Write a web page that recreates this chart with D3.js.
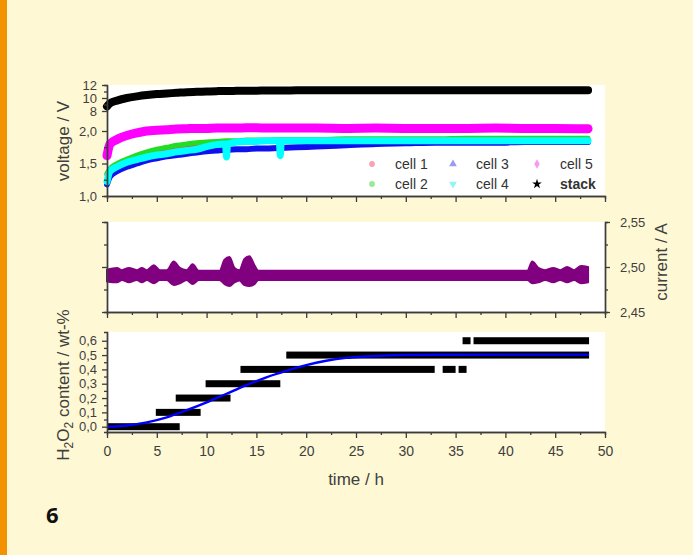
<!DOCTYPE html>
<html>
<head>
<meta charset="utf-8">
<script src="https://cdn.jsdelivr.net/npm/d3@7"></script>
<style>
  body { margin: 0; background: #fef8d4; }
  svg { display: block; font-family: "Liberation Sans", Arial, sans-serif; }
</style>
</head>
<body>
<svg id="chart" width="693" height="555"></svg>
<script>
// ---- voltage panel (V) ----
var voltTime = [0, 0.3, 1, 2, 3, 4, 5, 6, 7, 8, 9, 10, 11, 11.9, 12, 12.1, 13, 14, 15, 16, 17.3, 17.4, 17.5, 19, 21, 24, 27, 30, 33, 36, 39, 42, 45, 48.3];
var cell1 = [1.33, 1.40, 1.48, 1.55, 1.61, 1.66, 1.70, 1.73, 1.75, 1.77, 1.79, 1.80, 1.81, 1.82, 1.82, 1.82, 1.83, 1.84, 1.84, 1.85, 1.85, 1.85, 1.85, 1.86, 1.86, 1.86, 1.86, 1.87, 1.87, 1.87, 1.87, 1.87, 1.87, 1.87];
var cell2 = [1.35, 1.42, 1.50, 1.57, 1.63, 1.68, 1.72, 1.75, 1.78, 1.80, 1.82, 1.83, 1.84, 1.85, 1.85, 1.85, 1.85, 1.86, 1.86, 1.86, 1.87, 1.87, 1.87, 1.87, 1.87, 1.88, 1.88, 1.88, 1.88, 1.89, 1.89, 1.89, 1.89, 1.89];
var cell3 = [1.18, 1.30, 1.38, 1.45, 1.50, 1.55, 1.58, 1.61, 1.63, 1.65, 1.67, 1.69, 1.70, 1.71, 1.71, 1.71, 1.72, 1.72, 1.73, 1.73, 1.74, 1.74, 1.74, 1.75, 1.76, 1.78, 1.80, 1.81, 1.82, 1.82, 1.82, 1.83, 1.83, 1.83];
var cell4 = [1.22, 1.38, 1.45, 1.52, 1.56, 1.60, 1.63, 1.65, 1.68, 1.70, 1.72, 1.76, 1.79, 1.80, 1.60, 1.80, 1.83, 1.84, 1.84, 1.85, 1.85, 1.62, 1.85, 1.85, 1.85, 1.85, 1.85, 1.85, 1.85, 1.85, 1.85, 1.85, 1.85, 1.85];
var cell5 = [1.62, 1.80, 1.87, 1.93, 1.97, 2.00, 2.01, 2.02, 2.03, 2.035, 2.04, 2.04, 2.045, 2.045, 2.045, 2.045, 2.045, 2.05, 2.05, 2.045, 2.045, 2.045, 2.045, 2.045, 2.045, 2.04, 2.045, 2.04, 2.04, 2.04, 2.045, 2.04, 2.04, 2.035];
var stack = [8.7, 9.2, 9.6, 10.0, 10.25, 10.45, 10.6, 10.7, 10.8, 10.9, 10.95, 11.0, 11.05, 11.08, 11.08, 11.08, 11.1, 11.12, 11.13, 11.15, 11.16, 11.16, 11.16, 11.18, 11.2, 11.2, 11.2, 11.2, 11.2, 11.2, 11.2, 11.2, 11.2, 11.2];
var seriesNames = ["cell 1", "cell 2", "cell 3", "cell 4", "cell 5", "stack"];

// ---- current panel (A): upper and lower edge of the noisy band ----
var currTime = [0, 1, 1.5, 2.2, 3, 3.5, 4, 4.7, 5.3, 6, 6.7, 7.3, 8, 8.6, 9.2, 11.3, 11.8, 12.3, 12.8, 13.3, 13.8, 14.3, 14.8, 15.2, 42.2, 42.7, 43.3, 44, 44.8, 45.5, 46.2, 46.9, 47.6, 48.3];
var currHi = [2.497, 2.499, 2.4965, 2.499, 2.4965, 2.499, 2.4965, 2.502, 2.4965, 2.4965, 2.506, 2.499, 2.4965, 2.503, 2.4958, 2.4958, 2.508, 2.511, 2.499, 2.4965, 2.509, 2.512, 2.502, 2.4958, 2.4958, 2.506, 2.499, 2.4965, 2.499, 2.4965, 2.500, 2.4965, 2.501, 2.500];
var currLo = [2.484, 2.483, 2.4855, 2.483, 2.4855, 2.483, 2.4855, 2.482, 2.4855, 2.4855, 2.480, 2.482, 2.4855, 2.481, 2.4856, 2.4856, 2.481, 2.479, 2.483, 2.485, 2.480, 2.479, 2.481, 2.4856, 2.4856, 2.482, 2.483, 2.4855, 2.483, 2.4855, 2.483, 2.4855, 2.482, 2.483];

// ---- H2O2 panel (wt-%) ----
var barValue = [0.0, 0.1, 0.2, 0.3, 0.4, 0.4, 0.4, 0.5, 0.6, 0.6];
var barStart = [0.0, 4.9, 6.9, 9.9, 13.4, 33.7, 35.3, 18.0, 35.7, 36.8];
var barEnd = [7.3, 9.4, 12.4, 17.4, 32.9, 35.0, 36.1, 48.4, 36.5, 48.4];
var fitTime = [0, 2, 4, 6, 8, 10, 12, 14, 16, 18, 20, 22, 24, 26, 28, 30, 34, 40, 48.4];
var fitValue = [0, 0.008, 0.03, 0.065, 0.115, 0.17, 0.23, 0.29, 0.345, 0.39, 0.43, 0.46, 0.48, 0.49, 0.497, 0.5, 0.502, 0.503, 0.503];

var xTicks = [0, 5, 10, 15, 20, 25, 30, 35, 40, 45, 50];

var svg = d3.select("#chart");
var locale = d3.formatLocale({ decimal: ",", thousands: ".", grouping: [3], currency: ["", ""] });
var f1 = locale.format(".1f");
var f2 = locale.format(".2f");

// orange strip on the left
svg.append("rect").attr("x", 0).attr("y", 0).attr("width", 7).attr("height", 555).attr("fill", "#f39200");

var left = 107, right = 605;
var x = d3.scaleLinear().domain([0, 50]).range([left, right]);
// broken voltage axis: 1..2.25 below, 7..12 above
var yV = d3.scaleLinear().domain([1, 2.25, 7, 12]).range([196, 114.75, 117.5, 85]);
var yI = d3.scaleLinear().domain([2.45, 2.55]).range([312, 222]);
var yH = d3.scaleLinear().domain([-0.037, 0.661]).range([432, 332]);

function panelBg(top, bottom) {
  svg.append("rect").attr("x", left).attr("y", top).attr("width", right - left).attr("height", bottom - top).attr("fill", "#fff");
}
panelBg(85, 196);
panelBg(222, 312);
panelBg(332, 432);

function styleAxis(g, size) {
  g.selectAll("path").attr("stroke", "#3c3c3c").attr("stroke-width", 1.4);
  g.selectAll("line").attr("stroke", "#3c3c3c").attr("stroke-width", 1.3);
  g.selectAll("text").attr("fill", "#3f3f3f").attr("font-size", size || 14);
}

function xAxis(yPos, labels) {
  var minor = svg.append("g").attr("transform", "translate(0," + yPos + ")")
    .call(d3.axisBottom(x).tickValues(d3.range(2.5, 50, 5)).tickSize(3).tickFormat(""));
  styleAxis(minor);
  var major = svg.append("g").attr("transform", "translate(0," + yPos + ")")
    .call(d3.axisBottom(x).tickValues(xTicks).tickSizeInner(6).tickSizeOuter(0).tickPadding(8)
      .tickFormat(labels ? d3.format("d") : ""));
  styleAxis(major);
}

function yAxis(scale, xPos, values, minorValues, fmt, onRight) {
  var make = onRight ? d3.axisRight : d3.axisLeft;
  var minor = svg.append("g").attr("transform", "translate(" + xPos + ",0)")
    .call(make(scale).tickValues(minorValues).tickSize(3).tickFormat(""));
  styleAxis(minor);
  var major = svg.append("g").attr("transform", "translate(" + xPos + ",0)")
    .call(make(scale).tickValues(values).tickSizeInner(5).tickSizeOuter(0).tickPadding(onRight ? 10 : 5)
      .tickFormat(fmt));
  styleAxis(major, 13);
  return major;
}

// ---- top panel: voltages ----
var colors = ["#ff3b3b", "#22dd22", "#1010ee", "#00ffff", "#ff00ff", "#000000"];
var widths = [5, 5, 6, 7, 9, 8];
var voltSeries = [cell1, cell2, cell3, cell4, cell5, stack];

var line = d3.line().curve(d3.curveMonotoneX);
voltSeries.forEach(function(vals, i) {
  var pts = voltTime.map(function(t, j) { return [x(t), yV(vals[j])]; });
  svg.append("path").attr("d", line(pts)).attr("fill", "none")
    .attr("stroke", colors[i]).attr("stroke-width", widths[i])
    .attr("stroke-linejoin", "round").attr("stroke-linecap", "round");
});

yAxis(yV, left, [1, 1.5, 2, 8, 10, 12], [1.25, 1.75, 9, 11],
  function(d) { return d < 5 ? f1(d) : d; }, false);
xAxis(196, false);

// legend
var legendColors = ["#f7a3b3", "#9be89b", "#9a9af5", "#8ff5f5", "#f59af5", "#000"];
var legendSymbols = [d3.symbolCircle, d3.symbolCircle, d3.symbolTriangle, d3.symbolTriangle, d3.symbolDiamond, d3.symbolStar];
var legX = [372, 372, 453, 453, 537, 537];
var legY = [164, 184, 164, 184, 164, 184];
seriesNames.forEach(function(name, i) {
  svg.append("path")
    .attr("d", d3.symbol().type(legendSymbols[i]).size(i == 5 ? 30 : 26)())
    .attr("transform", "translate(" + legX[i] + "," + legY[i] + ")" + (i == 3 ? " rotate(180)" : ""))
    .attr("fill", legendColors[i]);
  svg.append("text").attr("x", legX[i] + 23).attr("y", legY[i] + 5)
    .attr("font-size", 14).attr("fill", "#333")
    .attr("font-weight", i == 5 ? "bold" : "normal")
    .text(name);
});

svg.append("text").attr("transform", "translate(69,141) rotate(-90)")
  .attr("text-anchor", "middle").attr("font-size", 17).attr("fill", "#3f3f3f")
  .text("voltage / V");

// ---- middle panel: current ----
var area = d3.area().curve(d3.curveMonotoneX)
  .x(function(d, i) { return x(currTime[i]); })
  .y0(function(d, i) { return yI(currLo[i]); })
  .y1(function(d, i) { return yI(currHi[i]); });
svg.append("path").attr("d", area(currTime)).attr("fill", "#800080")
  .attr("stroke", "#800080").attr("stroke-width", 2).attr("stroke-linejoin", "round");

yAxis(yI, left, [2.45, 2.5, 2.55], [2.475, 2.525], function() { return ""; }, false);
yAxis(yI, right, [2.45, 2.5, 2.55], [2.475, 2.525], f2, true);
xAxis(312, false);

svg.append("text").attr("transform", "translate(667,262) rotate(-90)")
  .attr("text-anchor", "middle").attr("font-size", 17).attr("fill", "#3f3f3f")
  .text("current / A");

// ---- bottom panel: H2O2 content ----
barValue.forEach(function(v, i) {
  svg.append("rect")
    .attr("x", x(barStart[i])).attr("y", yH(v) - 3.5)
    .attr("width", x(barEnd[i]) - x(barStart[i])).attr("height", 7)
    .attr("fill", "#000");
});
var fitLine = d3.line().curve(d3.curveMonotoneX)
  .x(function(d, i) { return x(fitTime[i]); })
  .y(function(d) { return yH(d); });
svg.append("path").attr("d", fitLine(fitValue)).attr("fill", "none")
  .attr("stroke", "#0000ff").attr("stroke-width", 2.4);

yAxis(yH, left, [0, 0.1, 0.2, 0.3, 0.4, 0.5, 0.6], [0.05, 0.15, 0.25, 0.35, 0.45, 0.55], f1, false);
xAxis(432, true);

var h2 = svg.append("text").attr("transform", "translate(69,385) rotate(-90)")
  .attr("text-anchor", "middle").attr("font-size", 17).attr("fill", "#3f3f3f");
h2.append("tspan").text("H");
h2.append("tspan").attr("font-size", 12).attr("dy", 4).text("2");
h2.append("tspan").attr("dy", -4).text("O");
h2.append("tspan").attr("font-size", 12).attr("dy", 4).text("2");
h2.append("tspan").attr("dy", -4).text(" content / wt-%");

svg.append("text").attr("x", 356).attr("y", 485)
  .attr("text-anchor", "middle").attr("font-size", 17).attr("fill", "#3f3f3f")
  .text("time / h");

// figure number
svg.append("text").attr("x", 46).attr("y", 523)
  .attr("font-family", "'Open Sans', sans-serif").attr("font-weight", "bold")
  .attr("font-size", 22).attr("fill", "#111").text("6");
</script>
</body>
</html>
